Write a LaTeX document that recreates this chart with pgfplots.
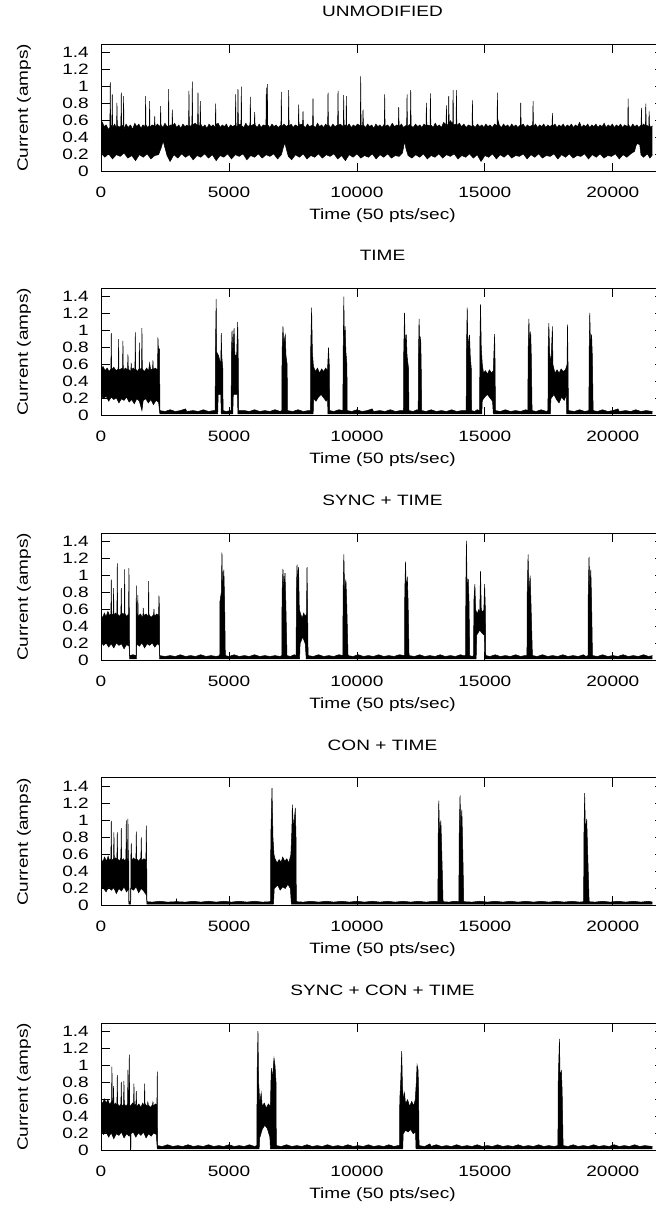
\documentclass[border=0pt]{standalone}
\usepackage{fontspec}
\setmainfont{Liberation Sans}[FakeStretch=1.27]
\usepackage{pgfplots}
\pgfplotsset{compat=1.18}
\usepgfplotslibrary{fillbetween}

% one gnuplot-like panel: 0..22000 samples, 0..1.5 A
\pgfplotsset{
  trace/.style={
    width=563bp, height=127.5bp, scale only axis,
    anchor=south west,
    xmin=0, xmax=22000, ymin=0, ymax=1.5,
    scaled x ticks=false, scaled y ticks=false,
    xtick={0,5000,10000,15000,20000},
    xticklabels={0,5000,10000,15000,20000},
    ytick={0,0.2,0.4,0.6,0.8,1,1.2,1.4},
    yticklabels={0,0.2,0.4,0.6,0.8,1,1.2,1.4},
    tick align=inside, major tick length=9bp,
    major tick style={black, line width=0.8bp},
    axis line style={line width=1bp},
    xticklabel style={anchor=base, yshift=-26bp, inner sep=0pt},
    yticklabel style={anchor=east, xshift=-12bp, inner sep=0pt},
    xlabel={Time (50 pts/sec)},
    ylabel={Current (amps)},
    xlabel style={at={(axis description cs:0.5,-0.345)}, anchor=center},
    ylabel style={at={(axis description cs:-0.1368,0.5)}, anchor=center},
    title style={at={(axis description cs:0.5,1.212)}, anchor=center},
  },
  env/.style={black, line width=0.5bp},
}

\begin{document}
\fontsize{15bp}{18bp}\selectfont
\begin{tikzpicture}

% ---------------- UNMODIFIED
\begin{axis}[trace, at={(101bp,1039.3bp)}, title={UNMODIFIED}]
\addplot[env, name path=u1] coordinates {
(0,0.50)(60,0.58)(120,0.53)(200,0.55)(280,0.50)(347,0.52)(362,1.05)(377,0.53)(425,0.55)(440,0.91)(455,0.52)
(530,0.56)(608,0.51)(623,0.81)(638,0.55)(700,0.52)(777,0.54)(792,0.93)(807,0.53)(868,0.55)(883,0.89)(898,0.50)
(980,0.56)(1060,0.52)(1150,0.55)(1240,0.50)(1320,0.57)(1400,0.53)(1480,0.56)(1560,0.51)(1640,0.55)(1728,0.53)
(1743,0.89)(1758,0.55)(1820,0.52)(1885,0.54)(1900,0.83)(1915,0.52)(1990,0.55)(2085,0.54)(2100,0.65)(2115,0.52)
(2200,0.56)(2315,0.53)(2330,0.77)(2345,0.55)(2420,0.52)(2500,0.57)(2580,0.53)(2628,0.54)(2643,0.97)(2658,0.52)
(2720,0.55)(2772,0.53)(2787,0.73)(2802,0.54)(2880,0.57)(2960,0.52)(3040,0.55)(3120,0.51)(3200,0.56)(3280,0.53)
(3360,0.55)(3422,0.52)(3437,0.95)(3452,0.55)(3510,0.53)(3553,0.56)(3568,1.06)(3583,0.55)(3680,0.57)(3775,0.54)
(3790,0.93)(3805,0.55)(3866,0.53)(3881,0.83)(3896,0.56)(3980,0.52)(4060,0.55)(4140,0.51)(4220,0.56)(4300,0.53)
(4380,0.55)(4465,0.52)(4480,0.80)(4495,0.55)(4580,0.57)(4660,0.52)(4740,0.55)(4820,0.53)(4900,0.56)(4980,0.51)
(5060,0.55)(5140,0.53)(5247,0.55)(5262,0.91)(5277,0.53)(5338,0.54)(5353,0.97)(5368,0.55)(5469,0.56)(5484,1.00)
(5499,0.54)(5580,0.52)(5660,0.57)(5740,0.53)(5821,0.55)(5836,0.88)(5851,0.54)(5990,0.56)(6005,0.70)(6020,0.55)
(6100,0.52)(6180,0.56)(6260,0.52)(6340,0.55)(6445,0.54)(6460,0.99)(6475,0.55)(6485,0.55)(6500,1.03)(6515,0.55)
(6600,0.52)(6680,0.56)(6760,0.53)(6840,0.55)(6920,0.52)(7032,0.55)(7047,0.94)(7062,0.53)(7150,0.56)(7240,0.53)
(7319,0.55)(7334,0.96)(7349,0.53)(7430,0.56)(7510,0.52)(7590,0.55)(7709,0.53)(7724,0.79)(7739,0.55)(7879,0.56)
(7894,0.71)(7909,0.54)(7990,0.52)(8070,0.56)(8150,0.53)(8269,0.55)(8284,0.86)(8299,0.54)(8380,0.52)(8460,0.57)
(8540,0.53)(8620,0.55)(8700,0.52)(8780,0.56)(8856,0.53)(8871,0.93)(8886,0.55)(8980,0.52)(9060,0.56)(9140,0.53)
(9247,0.55)(9262,0.95)(9277,0.54)(9350,0.56)(9468,0.53)(9483,0.90)(9498,0.55)(9573,0.54)(9588,0.89)(9603,0.53)
(9700,0.56)(9780,0.52)(9860,0.55)(9940,0.53)(10020,0.56)(10133,0.54)(10148,1.12)(10163,0.55)(10224,0.53)
(10239,0.73)(10254,0.55)(10340,0.52)(10420,0.56)(10500,0.53)(10580,0.55)(10660,0.51)(10740,0.56)(10820,0.53)
(10900,0.55)(10980,0.52)(11071,0.56)(11086,0.91)(11101,0.53)(11200,0.55)(11290,0.52)(11380,0.57)(11470,0.53)
(11560,0.55)(11619,0.54)(11634,0.76)(11649,0.53)(11740,0.56)(11820,0.52)(11944,0.55)(11959,0.91)(11974,0.53)
(12088,0.56)(12103,0.96)(12118,0.54)(12200,0.52)(12290,0.56)(12380,0.53)(12460,0.55)(12540,0.52)(12620,0.56)
(12701,0.54)(12716,0.81)(12731,0.55)(12858,0.54)(12873,0.92)(12888,0.55)(12980,0.52)(13060,0.57)(13140,0.53)
(13220,0.55)(13300,0.52)(13390,0.58)(13483,0.55)(13498,0.78)(13513,0.54)(13574,0.56)(13589,0.89)(13604,0.55)
(13650,0.60)(13744,0.56)(13759,0.96)(13774,0.55)(13874,0.56)(13889,0.96)(13904,0.54)(14000,0.57)(14090,0.53)
(14180,0.56)(14270,0.52)(14360,0.55)(14499,0.53)(14514,0.84)(14529,0.55)(14620,0.52)(14710,0.56)(14800,0.53)
(14880,0.55)(14960,0.52)(15040,0.56)(15120,0.53)(15200,0.55)(15290,0.52)(15380,0.56)(15475,0.54)(15490,0.93)
(15505,0.55)(15520,0.60)(15560,0.55)(15650,0.52)(15730,0.56)(15810,0.53)(15890,0.55)(15970,0.52)(16050,0.56)
(16130,0.53)(16210,0.55)(16290,0.52)(16387,0.55)(16402,0.81)(16417,0.54)(16500,0.56)(16580,0.52)(16660,0.55)
(16740,0.53)(16869,0.55)(16884,0.83)(16899,0.53)(16980,0.56)(17060,0.52)(17140,0.55)(17220,0.53)(17300,0.56)
(17380,0.52)(17460,0.55)(17540,0.53)(17625,0.55)(17640,0.69)(17655,0.53)(17740,0.56)(17820,0.52)(17900,0.55)
(17980,0.53)(18060,0.56)(18140,0.52)(18220,0.55)(18300,0.53)(18380,0.56)(18460,0.52)(18540,0.55)(18620,0.53)
(18700,0.58)(18780,0.52)(18860,0.55)(18940,0.53)(19020,0.56)(19100,0.52)(19180,0.55)(19260,0.53)(19340,0.56)
(19420,0.52)(19500,0.55)(19580,0.53)(19660,0.57)(19740,0.52)(19820,0.55)(19900,0.53)(19980,0.56)(20060,0.52)
(20140,0.55)(20220,0.53)(20300,0.56)(20380,0.52)(20460,0.55)(20583,0.53)(20598,0.86)(20613,0.55)(20700,0.52)
(20780,0.56)(20860,0.53)(20940,0.55)(21020,0.52)(21104,0.55)(21119,0.75)(21134,0.53)(21200,0.56)(21274,0.54)
(21289,0.80)(21304,0.55)(21404,0.53)(21419,0.71)(21434,0.55)(21480,0.52)(21550,0.54)};
\addplot[env, name path=l1] coordinates {
(0,0.22)(150,0.17)(300,0.21)(450,0.15)(600,0.20)(750,0.18)(900,0.22)(1050,0.16)(1200,0.19)(1350,0.13)(1500,0.20)
(1650,0.17)(1800,0.21)(1950,0.15)(2100,0.19)(2250,0.20)(2350,0.28)(2430,0.36)(2500,0.28)(2580,0.19)(2700,0.12)
(2850,0.20)(3000,0.16)(3150,0.21)(3300,0.17)(3450,0.20)(3600,0.14)(3750,0.19)(3900,0.17)(4050,0.21)(4200,0.16)
(4350,0.20)(4500,0.13)(4650,0.19)(4800,0.17)(4950,0.21)(5100,0.15)(5250,0.20)(5400,0.18)(5550,0.21)(5700,0.14)
(5850,0.19)(6000,0.17)(6150,0.21)(6300,0.16)(6450,0.20)(6600,0.18)(6750,0.21)(6900,0.15)(7050,0.20)(7120,0.28)
(7180,0.34)(7240,0.27)(7320,0.18)(7450,0.14)(7600,0.20)(7750,0.17)(7900,0.21)(8050,0.15)(8200,0.19)(8350,0.17)
(8500,0.21)(8650,0.16)(8800,0.20)(8950,0.18)(9100,0.21)(9250,0.15)(9400,0.19)(9550,0.13)(9700,0.20)(9850,0.17)
(10000,0.21)(10150,0.16)(10300,0.19)(10450,0.17)(10600,0.21)(10750,0.15)(10900,0.20)(11050,0.17)(11200,0.21)
(11350,0.16)(11500,0.19)(11650,0.18)(11780,0.22)(11830,0.30)(11870,0.36)(11910,0.28)(12000,0.19)(12150,0.16)
(12300,0.20)(12450,0.17)(12600,0.21)(12750,0.15)(12900,0.19)(13050,0.17)(13200,0.21)(13350,0.16)(13500,0.20)
(13650,0.18)(13800,0.21)(13950,0.15)(14100,0.19)(14250,0.17)(14400,0.21)(14550,0.16)(14700,0.20)(14850,0.12)
(15000,0.19)(15150,0.17)(15300,0.21)(15450,0.15)(15600,0.20)(15750,0.17)(15900,0.21)(16050,0.16)(16200,0.19)
(16350,0.18)(16500,0.21)(16650,0.15)(16800,0.20)(16950,0.17)(17100,0.21)(17250,0.16)(17400,0.19)(17550,0.18)
(17700,0.21)(17850,0.15)(18000,0.20)(18150,0.17)(18300,0.21)(18450,0.16)(18600,0.19)(18750,0.18)(18900,0.21)
(19050,0.15)(19200,0.20)(19350,0.17)(19500,0.21)(19650,0.16)(19800,0.19)(19950,0.18)(20100,0.21)(20250,0.15)
(20400,0.20)(20550,0.17)(20700,0.21)(20850,0.24)(20900,0.30)(20950,0.33)(21050,0.32)(21100,0.20)(21200,0.17)
(21350,0.21)(21450,0.16)(21550,0.20)};
\addplot[black] fill between[of=u1 and l1];
\end{axis}

% ---------------- TIME
\begin{axis}[trace, at={(101bp,795.3bp)}, title={TIME}]
\addplot[env, name path=u2] coordinates {
(0,0.55)(80,0.58)(160,0.53)(240,0.56)(320,0.52)(386,0.55)(401,0.97)(416,0.54)(500,0.57)(590,0.53)(673,0.55)
(688,0.90)(703,0.54)(842,0.56)(857,0.88)(872,0.53)(950,0.56)(1038,0.54)(1053,0.72)(1068,0.55)(1165,0.52)
(1180,0.62)(1195,0.54)(1260,0.56)(1325,0.53)(1340,0.98)(1355,0.55)(1420,0.52)(1485,0.55)(1500,0.86)(1515,0.54)
(1585,0.56)(1600,1.03)(1615,0.55)(1700,0.52)(1780,0.56)(1860,0.53)(1900,0.62)(1940,0.54)(2015,0.55)(2030,0.65)
(2045,0.54)(2120,0.56)(2210,0.54)(2225,0.92)(2240,0.80)(2290,0.78)(2300,0.06)
(2500,0.05)(2700,0.07)(2900,0.05)(3100,0.06)(3300,0.08)(3350,0.05)(3600,0.06)(3800,0.05)(4000,0.07)(4200,0.05)
(4400,0.06)(4460,0.06)(4470,0.72)(4500,1.37)(4520,0.75)(4600,0.70)(4680,0.60)(4700,0.97)(4720,0.70)(4760,0.55)
(4770,0.06)(4900,0.05)(5050,0.06)(5085,0.06)(5095,0.70)(5120,1.00)(5150,0.75)(5200,1.03)(5230,0.72)(5300,0.70)
(5340,1.10)(5360,0.80)(5379,0.06)(5600,0.06)(5800,0.05)(6000,0.07)(6200,0.05)(6400,0.06)(6600,0.05)(6800,0.07)
(7000,0.05)(7065,0.06)(7075,0.75)(7110,1.05)(7140,0.85)(7200,0.95)(7230,0.70)(7275,0.60)(7285,0.06)(7500,0.05)
(7700,0.07)(7900,0.05)(8100,0.06)(8185,0.06)(8195,0.80)(8230,1.27)(8260,0.75)(8300,0.58)(8380,0.52)(8460,0.56)
(8540,0.50)(8620,0.55)(8700,0.52)(8780,0.56)(8850,0.53)(8890,0.80)(8920,0.60)(8936,0.06)(9100,0.05)(9300,0.07)
(9450,0.06)(9465,0.80)(9490,1.40)(9510,0.80)(9540,1.05)(9570,0.75)(9610,0.60)(9620,0.06)(9800,0.05)(10000,0.07)
(10200,0.05)(10400,0.06)(10600,0.08)(10650,0.05)(10900,0.06)(11100,0.05)(11300,0.07)(11500,0.05)(11700,0.06)
(11820,0.06)(11830,0.75)(11860,1.21)(11890,0.80)(11930,0.955)(11960,0.70)(12020,0.55)(12030,0.06)(12200,0.05)
(12350,0.07)(12395,0.06)(12405,0.70)(12430,1.14)(12460,0.75)(12490,0.93)(12510,0.65)(12533,0.06)(12700,0.05)
(12900,0.07)(13100,0.05)(13300,0.06)(13500,0.05)(13700,0.07)(13900,0.05)(14100,0.06)(14270,0.06)(14280,0.75)
(14310,1.27)(14340,0.80)(14400,0.95)(14430,0.70)(14470,0.55)(14480,0.06)(14600,0.05)(14700,0.07)(14795,0.06)
(14805,0.85)(14830,1.31)(14860,0.80)(14900,0.60)(14950,0.50)(15020,0.53)(15100,0.49)(15180,0.54)(15260,0.50)
(15330,0.53)(15380,0.96)(15400,0.60)(15412,0.06)(15600,0.05)(15800,0.07)(16000,0.05)(16200,0.06)(16400,0.05)
(16600,0.07)(16680,0.06)(16690,0.75)(16720,1.14)(16750,0.80)(16790,0.99)(16815,0.70)(16845,0.06)(17000,0.05)
(17200,0.07)(17400,0.05)(17465,0.06)(17475,0.80)(17500,1.09)(17530,0.75)(17580,0.60)(17640,1.05)(17660,0.60)
(17740,0.50)(17820,0.54)(17900,0.50)(17980,0.55)(18060,0.52)(18150,0.54)(18210,0.60)(18230,1.07)(18250,0.60)
(18266,0.06)(18500,0.05)(18700,0.07)(18900,0.05)(19065,0.06)(19075,0.75)(19100,1.21)(19130,0.80)(19170,0.955)
(19200,0.70)(19231,0.06)(19400,0.05)(19600,0.07)(19800,0.05)(20000,0.06)(20200,0.08)(20250,0.05)(20500,0.06)
(20700,0.05)(20900,0.07)(21100,0.05)(21300,0.06)(21550,0.05)};
\addplot[env, name path=l2] coordinates {
(0,0.24)(100,0.20)(200,0.23)(300,0.17)(400,0.22)(500,0.19)(600,0.21)(700,0.15)(800,0.20)(900,0.18)(1000,0.22)
(1100,0.16)(1200,0.19)(1300,0.14)(1400,0.20)(1500,0.17)(1600,0.06)(1650,0.18)(1750,0.20)(1850,0.15)(1950,0.19)
(2050,0.13)(2150,0.18)(2250,0.16)(2300,0.02)(4560,0.02)(4580,0.25)(4680,0.25)(4700,0.02)(5150,0.02)(5170,0.25)
(5330,0.25)(5350,0.02)(8290,0.02)(8310,0.20)(8400,0.17)(8500,0.22)(8600,0.25)(8700,0.21)(8800,0.17)(8850,0.20)
(8870,0.02)(14880,0.02)(14900,0.18)(15000,0.22)(15100,0.25)(15200,0.21)(15300,0.17)(15330,0.02)(17560,0.02)
(17580,0.20)(17700,0.25)(17800,0.19)(17900,0.15)(18000,0.22)(18100,0.18)(18180,0.24)(18200,0.02)(21550,0.02)};
\addplot[black] fill between[of=u2 and l2];
\end{axis}

% ---------------- SYNC + TIME
\begin{axis}[trace, at={(101bp,550.3bp)}, title={SYNC + TIME}]
\addplot[env, name path=u3] coordinates {
(0,0.55)(60,0.50)(130,0.56)(200,0.52)(270,0.58)(340,0.53)(386,0.55)(401,0.955)(416,0.54)(477,0.55)(492,0.855)
(507,0.53)(560,0.56)(621,0.54)(636,1.144)(651,0.55)(720,0.52)(777,0.55)(792,0.855)(807,0.54)(860,0.56)(908,0.53)
(923,1.073)(938,0.55)(1000,0.52)(1077,0.55)(1092,1.09)(1107,0.50)(1118,0.06)(1250,0.07)(1370,0.06)(1379,0.884)
(1394,0.52)(1425,0.53)(1440,0.77)(1455,0.52)(1540,0.55)(1635,0.50)(1650,0.62)(1665,0.53)(1760,0.55)(1846,0.52)
(1861,0.935)(1876,0.54)(1960,0.51)(2055,0.54)(2070,0.61)(2085,0.52)(2180,0.55)(2250,0.53)(2265,0.766)(2285,0.60)
(2291,0.06)(2500,0.05)(2700,0.06)(2900,0.05)(3100,0.07)(3300,0.05)(3500,0.06)(3700,0.05)(3900,0.07)(4100,0.05)
(4300,0.06)(4500,0.05)(4640,0.06)(4650,0.70)(4700,0.80)(4727,1.27)(4750,0.80)(4800,1.07)(4830,0.70)(4858,0.06)
(5000,0.05)(5200,0.07)(5400,0.05)(5600,0.06)(5800,0.05)(6000,0.07)(6200,0.05)(6400,0.06)(6600,0.05)(6800,0.06)
(7000,0.05)(7065,0.06)(7075,0.80)(7110,1.08)(7140,0.85)(7190,1.03)(7220,0.70)(7268,0.06)(7400,0.05)(7550,0.07)
(7625,0.06)(7635,0.80)(7660,1.13)(7690,0.90)(7720,1.10)(7750,0.60)(7800,0.55)(7860,0.50)(7920,0.56)(7980,0.52)
(8030,0.55)(8050,1.10)(8070,0.70)(8092,0.06)(8300,0.05)(8500,0.07)(8700,0.05)(8900,0.06)(9100,0.05)(9300,0.07)
(9450,0.06)(9460,0.80)(9490,1.25)(9520,0.80)(9570,0.955)(9600,0.70)(9653,0.06)(9850,0.05)(10050,0.07)(10250,0.05)
(10450,0.06)(10650,0.05)(10850,0.07)(11050,0.05)(11250,0.06)(11450,0.05)(11650,0.07)(11860,0.06)(11870,0.80)
(11900,1.164)(11930,0.80)(11970,0.99)(12000,0.70)(12037,0.06)(12250,0.05)(12450,0.07)(12650,0.05)(12850,0.06)
(13050,0.05)(13250,0.07)(13450,0.05)(13650,0.06)(13850,0.05)(14050,0.07)(14150,0.06)(14245,0.06)(14255,0.80)
(14280,1.41)(14310,0.80)(14350,0.96)(14380,0.70)(14409,0.06)(14500,0.05)(14560,0.06)(14570,0.70)(14610,0.90)
(14640,0.60)(14700,0.55)(14760,0.60)(14800,0.56)(14830,1.055)(14860,0.60)(14920,0.57)(14960,0.60)(14990,0.90)
(15020,0.60)(15035,0.06)(15200,0.05)(15400,0.07)(15600,0.05)(15800,0.06)(16000,0.05)(16200,0.07)(16400,0.05)
(16550,0.06)(16645,0.06)(16655,0.80)(16690,1.25)(16720,0.80)(16770,1.00)(16800,0.70)(16858,0.06)(17050,0.05)
(17250,0.07)(17450,0.05)(17650,0.06)(17850,0.05)(18050,0.07)(18250,0.05)(18450,0.06)(18650,0.05)(18850,0.07)
(18950,0.05)(19030,0.06)(19040,0.80)(19070,1.22)(19100,0.85)(19140,1.07)(19170,0.70)(19204,0.06)(19400,0.05)
(19600,0.07)(19800,0.05)(20000,0.06)(20200,0.05)(20400,0.07)(20600,0.05)(20800,0.06)(21000,0.05)(21200,0.07)
(21400,0.05)(21550,0.06)};
\addplot[env, name path=l3] coordinates {
(0,0.22)(100,0.18)(200,0.21)(300,0.16)(400,0.20)(500,0.15)(600,0.21)(700,0.18)(800,0.20)(900,0.14)(1000,0.19)
(1100,0.17)(1118,0.02)(1379,0.02)(1400,0.20)(1500,0.17)(1600,0.21)(1700,0.15)(1800,0.20)(1900,0.18)(2000,0.21)
(2100,0.16)(2200,0.20)(2280,0.18)(2291,0.02)(7760,0.02)(7780,0.20)(7880,0.28)(7980,0.20)(8020,0.02)(14660,0.02)
(14680,0.30)(14800,0.36)(14900,0.32)(14980,0.30)(15000,0.02)(21550,0.02)};
\addplot[black] fill between[of=u3 and l3];
\end{axis}

% ---------------- CON + TIME
\begin{axis}[trace, at={(101bp,305.5bp)}, title={CON + TIME}]
\addplot[env, name path=u4] coordinates {
(0,0.56)(70,0.51)(140,0.57)(210,0.52)(280,0.58)(330,0.53)(386,0.55)(401,0.996)(416,0.53)(490,0.55)(505,0.86)
(520,0.54)(570,0.56)(621,0.53)(636,0.86)(651,0.55)(720,0.52)(777,0.56)(792,0.91)(807,0.53)(880,0.55)(930,0.52)
(973,0.55)(988,1.00)(1003,0.54)(1038,0.55)(1053,1.02)(1068,0.55)(1085,0.52)(1092,0.045)(1160,0.045)(1168,0.55)
(1183,0.73)(1198,0.53)(1270,0.56)(1364,0.53)(1379,0.87)(1394,0.55)(1470,0.52)(1559,0.56)(1574,0.80)(1589,0.53)
(1680,0.55)(1755,0.53)(1770,0.94)(1785,0.56)(1796,0.045)(2000,0.04)(2300,0.05)(2600,0.04)(2940,0.045)(2950,0.08)
(2960,0.045)(3300,0.04)(3600,0.05)(3900,0.04)(4200,0.05)(4500,0.04)(4800,0.05)(5100,0.04)(5400,0.05)(5700,0.04)
(6000,0.05)(6300,0.04)(6625,0.045)(6635,0.80)(6682,1.38)(6720,0.80)(6760,0.60)(6800,0.55)(6880,0.50)(6960,0.54)
(7040,0.51)(7100,0.57)(7180,0.52)(7260,0.55)(7340,0.50)(7420,0.60)(7460,0.90)(7477,1.186)(7520,0.90)(7594,1.147)
(7620,0.80)(7633,0.045)(7900,0.04)(8200,0.05)(8500,0.04)(8800,0.05)(9100,0.04)(9400,0.05)(9700,0.04)(10000,0.05)
(10300,0.04)(10600,0.05)(10900,0.04)(11200,0.05)(11500,0.04)(11800,0.05)(12100,0.04)(12400,0.05)(12700,0.04)
(13000,0.05)(13165,0.045)(13175,0.80)(13200,1.233)(13230,0.80)(13280,1.00)(13310,0.70)(13366,0.045)(13600,0.04)
(13800,0.05)(13985,0.045)(13995,0.80)(14030,1.296)(14060,0.90)(14100,1.127)(14130,0.75)(14175,0.045)(14500,0.04)
(14800,0.05)(15100,0.04)(15400,0.05)(15700,0.04)(16000,0.05)(16300,0.04)(16600,0.05)(16900,0.04)(17200,0.05)
(17500,0.04)(17800,0.05)(18100,0.04)(18400,0.05)(18700,0.04)(18860,0.045)(18870,0.80)(18900,1.323)(18930,0.85)
(18980,1.02)(19010,0.70)(19074,0.045)(19300,0.04)(19600,0.05)(19900,0.04)(20200,0.05)(20500,0.04)(20800,0.05)
(21100,0.04)(21400,0.05)(21550,0.04)};
\addplot[env, name path=l4] coordinates {
(0,0.22)(100,0.20)(200,0.16)(300,0.22)(400,0.18)(500,0.21)(600,0.14)(700,0.20)(800,0.17)(900,0.22)(1000,0.16)
(1085,0.20)(1092,0.015)(1160,0.015)(1170,0.20)(1270,0.18)(1370,0.22)(1470,0.15)(1570,0.20)(1670,0.17)(1780,0.12)
(1796,0.015)(6740,0.015)(6770,0.20)(6900,0.24)(7000,0.18)(7100,0.22)(7200,0.20)(7300,0.25)(7400,0.20)(7440,0.015)
(21550,0.015)};
\addplot[black] fill between[of=u4 and l4];
\end{axis}

% ---------------- SYNC + CON + TIME
\begin{axis}[trace, at={(101bp,60.3bp)}, title={SYNC + CON + TIME}]
\addplot[env, name path=u5] coordinates {
(0,0.60)(60,0.55)(130,0.61)(200,0.56)(270,0.60)(340,0.54)(412,0.58)(427,0.99)(442,0.55)(475,0.54)(490,0.76)
(505,0.53)(560,0.56)(621,0.53)(636,0.89)(651,0.55)(720,0.52)(777,0.55)(792,0.81)(807,0.53)(881,0.54)(896,0.82)
(911,0.55)(980,0.52)(1038,0.55)(1053,0.95)(1068,0.54)(1090,0.56)(1105,1.13)(1120,0.55)(1145,0.52)(1150,0.00)
(1162,0.00)(1168,0.53)(1230,0.56)(1272,0.54)(1287,0.79)(1302,0.53)(1364,0.55)(1379,0.70)(1394,0.52)(1480,0.55)
(1560,0.51)(1630,0.56)(1690,0.53)(1705,0.79)(1720,0.55)(1815,0.52)(1830,0.58)(1845,0.54)(1930,0.51)(2015,0.54)
(2030,0.58)(2045,0.52)(2120,0.55)(2185,0.54)(2200,0.93)(2210,0.06)(2400,0.05)(2600,0.07)(2800,0.05)(3000,0.06)
(3200,0.05)(3400,0.07)(3600,0.05)(3800,0.06)(4000,0.05)(4200,0.07)(4400,0.05)(4600,0.06)(4800,0.05)(5000,0.07)
(5200,0.05)(5400,0.06)(5600,0.05)(5800,0.07)(6000,0.05)(6090,0.06)(6100,0.90)(6134,1.406)(6160,0.80)(6180,0.70)
(6200,0.56)(6260,0.68)(6300,0.52)(6380,0.56)(6460,0.50)(6540,0.55)(6620,0.52)(6640,0.80)(6656,0.97)(6700,0.85)
(6760,1.09)(6800,1.00)(6840,0.80)(6851,0.06)(7050,0.05)(7250,0.07)(7450,0.05)(7650,0.06)(7850,0.05)(8050,0.07)
(8250,0.05)(8450,0.06)(8650,0.05)(8850,0.07)(9050,0.05)(9250,0.06)(9450,0.05)(9650,0.07)(9850,0.05)(10050,0.06)
(10250,0.05)(10450,0.07)(10650,0.05)(10850,0.06)(11050,0.05)(11250,0.07)(11450,0.05)(11600,0.06)(11665,0.06)
(11675,0.60)(11710,0.80)(11750,1.17)(11780,0.75)(11820,0.60)(11860,0.68)(11900,0.55)(11980,0.60)(12060,0.52)
(12140,0.58)(12220,0.53)(12280,0.60)(12320,0.80)(12350,1.01)(12390,0.95)(12410,0.70)(12428,0.06)(12650,0.05)
(12850,0.08)(12900,0.05)(13100,0.07)(13300,0.05)(13500,0.06)(13700,0.05)(13900,0.07)(14100,0.05)(14300,0.06)
(14500,0.05)(14700,0.07)(14900,0.05)(15100,0.06)(15300,0.05)(15500,0.07)(15700,0.05)(15900,0.06)(16100,0.05)
(16300,0.07)(16500,0.05)(16700,0.06)(16900,0.05)(17100,0.07)(17300,0.05)(17500,0.06)(17700,0.05)(17855,0.06)
(17865,0.80)(17914,1.316)(17940,0.85)(17990,0.95)(18020,0.70)(18058,0.06)(18250,0.05)(18450,0.07)(18650,0.05)
(18850,0.06)(19050,0.05)(19250,0.07)(19450,0.05)(19650,0.06)(19850,0.05)(20050,0.07)(20250,0.05)(20450,0.06)
(20650,0.05)(20850,0.07)(21050,0.05)(21250,0.06)(21550,0.05)};
\addplot[env, name path=l5] coordinates {
(0,0.24)(100,0.19)(200,0.22)(300,0.16)(400,0.21)(500,0.14)(600,0.20)(700,0.18)(800,0.22)(900,0.15)(1000,0.20)
(1100,0.17)(1145,0.20)(1150,0.00)(1162,0.00)(1170,0.20)(1260,0.22)(1360,0.16)(1460,0.21)(1560,0.18)(1660,0.22)
(1760,0.15)(1860,0.20)(1960,0.17)(2060,0.21)(2160,0.19)(2200,0.02)(6180,0.02)(6200,0.15)(6300,0.25)(6400,0.30)
(6500,0.26)(6600,0.16)(6620,0.02)(11790,0.02)(11810,0.20)(11900,0.24)(12000,0.22)(12100,0.25)(12200,0.20)
(12290,0.22)(12310,0.02)(21550,0.02)};
\addplot[black] fill between[of=u5 and l5];
\end{axis}

\pgfresetboundingbox
\useasboundingbox (0,0) rectangle (656bp,1211bp);
\end{tikzpicture}
\end{document}
